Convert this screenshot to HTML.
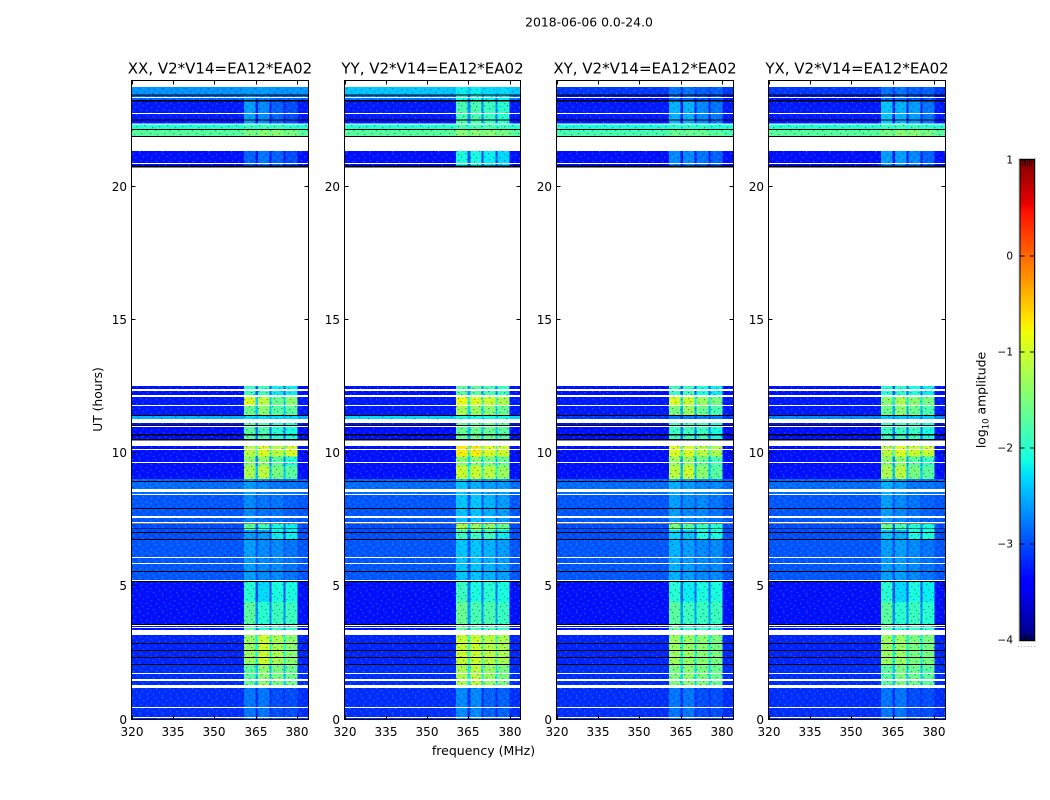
<!DOCTYPE html>
<html lang="en">
<head>
<meta charset="utf-8">
<title>2018-06-06 spectrogram</title>
<style>
html,body{margin:0;padding:0;background:#fff;}
svg{display:block;font-family:"DejaVu Sans","Liberation Sans",sans-serif;}
</style>
</head>
<body>
<svg id="chart" xmlns="http://www.w3.org/2000/svg" width="1050" height="800" viewBox="0 0 1050 800">
<defs>
<pattern id="speckle" patternUnits="userSpaceOnUse" width="23" height="17">
<g fill="#00e0ff" fill-opacity=".38">
<rect x="1" y="0" width="1.3" height="1.2"/><rect x="9" y="1" width="1.3" height="1.2"/><rect x="17" y="0" width="1.3" height="1.2"/>
<rect x="5" y="3" width="1.3" height="1.2"/><rect x="20" y="4" width="1.3" height="1.2"/><rect x="13" y="5" width="1.3" height="1.2"/>
<rect x="2" y="7" width="1.3" height="1.2"/><rect x="8" y="8" width="1.3" height="1.2"/><rect x="18" y="8" width="1.3" height="1.2"/>
<rect x="12" y="10" width="1.3" height="1.2"/><rect x="4" y="11" width="1.3" height="1.2"/><rect x="21" y="12" width="1.3" height="1.2"/>
<rect x="9" y="13" width="1.3" height="1.2"/><rect x="15" y="14" width="1.3" height="1.2"/><rect x="1" y="15" width="1.3" height="1.2"/>
</g>
<g fill="#000060" fill-opacity=".4">
<rect x="5" y="0" width="1.3" height="1.2"/><rect x="13" y="1" width="1.3" height="1.2"/><rect x="21" y="1" width="1.3" height="1.2"/>
<rect x="1" y="3" width="1.3" height="1.2"/><rect x="10" y="4" width="1.3" height="1.2"/><rect x="16" y="4" width="1.3" height="1.2"/>
<rect x="6" y="6" width="1.3" height="1.2"/><rect x="21" y="7" width="1.3" height="1.2"/><rect x="14" y="8" width="1.3" height="1.2"/>
<rect x="0" y="10" width="1.3" height="1.2"/><rect x="8" y="11" width="1.3" height="1.2"/><rect x="17" y="11" width="1.3" height="1.2"/>
<rect x="3" y="14" width="1.3" height="1.2"/><rect x="12" y="14" width="1.3" height="1.2"/><rect x="19" y="15" width="1.3" height="1.2"/>
</g>
</pattern>
</defs>
</svg>
<script>
// Chart data
const panelTitles = ["XX, V2*V14=EA12*EA02", "YY, V2*V14=EA12*EA02", "XY, V2*V14=EA12*EA02", "YX, V2*V14=EA12*EA02"];
const freqTicks = [320, 335, 350, 365, 380];
const hourTicks = [0, 5, 10, 15, 20];
const colorTicks = [1, 0, -1, -2, -3, -4];

// Time segments with data (UT hours)
const segStart = [0, 1.29, 2.04, 3.36, 4.41, 5.16, 6.74, 7.11, 7.41, 8.43, 9.03, 9.52, 9.87, 10.47, 11.29, 11.40, 11.77, 12.11, 20.73, 21.88, 22.14, 22.35, 23.21, 23.48];
const segEnd = [1.29, 2.04, 3.18, 4.41, 5.16, 6.74, 7.11, 7.41, 8.43, 9.03, 9.52, 9.87, 10.27, 11.13, 11.40, 11.77, 12.11, 12.52, 21.35, 22.14, 22.35, 23.21, 23.48, 23.76];

// Frequency windows carrying the signal (MHz)
const windowStart = [360.6, 365.8, 370.6, 375.7];
const windowEnd = [364.8, 369.9, 374.9, 380.0];

// log10 amplitude away from the signal windows, per segment
const backgroundXX = [-3.15, -3.15, -3.2, -3.3, -3.3, -2.95, -3.0, -3.0, -2.95, -2.85, -3.3, -3.3, -3.3, -3.3, -2.5, -3.25, -3.25, -3.3, -3.3, -1.7, -2.05, -3.25, -2.9, -2.65];
const backgroundYY = [-3.15, -3.15, -3.2, -3.3, -3.3, -2.95, -3.0, -3.0, -2.95, -2.85, -3.3, -3.3, -3.3, -3.3, -2.3, -3.25, -3.25, -3.3, -3.3, -1.7, -2.05, -3.25, -2.8, -2.4];
const backgroundXY = [-3.15, -3.15, -3.2, -3.3, -3.3, -2.95, -3.0, -3.0, -2.95, -2.85, -3.3, -3.3, -3.3, -3.3, -3.1, -3.25, -3.25, -3.3, -3.3, -1.8, -2.1, -3.25, -3.3, -3.1];
const backgroundYX = [-3.15, -3.15, -3.2, -3.3, -3.3, -2.95, -3.0, -3.0, -2.95, -2.85, -3.3, -3.3, -3.3, -3.3, -2.7, -3.25, -3.25, -3.3, -3.3, -1.7, -2.05, -3.25, -3.3, -3.1];

// log10 amplitude inside the four windows, per segment
const windowsXX = [[-2.8,-2.8,-3.0,-3.0],[-1.7,-1.4,-1.5,-1.6],[-1.3,-1.0,-1.2,-1.4],[-1.7,-2.0,-1.9,-1.9],[-2.0,-2.3,-2.1,-2.1],[-2.6,-2.7,-2.7,-2.8],[-2.6,-2.6,-2.2,-2.2],[-1.7,-1.9,-2.1,-2.2],[-2.7,-2.8,-2.8,-2.9],[-2.6,-2.7,-2.8,-2.8],[-1.2,-1.1,-1.5,-1.7],[-1.4,-1.4,-1.7,-2.0],[-1.1,-0.9,-1.1,-0.9],[-1.7,-1.8,-2.0,-2.1],[-2.3,-2.3,-2.3,-2.3],[-1.6,-1.4,-1.7,-1.7],[-0.9,-1.1,-1.6,-1.4],[-1.9,-1.9,-2.2,-2.2],[-2.9,-2.8,-2.9,-3.0],[-1.5,-1.4,-1.4,-1.5],[-1.9,-1.9,-1.9,-2.0],[-2.6,-2.7,-2.9,-3.0],[-2.7,-2.8,-2.9,-2.9],[-2.6,-2.6,-2.65,-2.65]];
const windowsYY = [[-2.7,-2.7,-2.9,-2.9],[-1.2,-1.1,-1.3,-1.5],[-1.0,-1.0,-1.1,-1.2],[-1.6,-1.8,-1.8,-1.9],[-1.9,-2.1,-2.0,-2.1],[-2.4,-2.4,-2.5,-2.6],[-1.9,-1.9,-1.9,-2.2],[-1.2,-1.3,-1.4,-1.6],[-2.4,-2.4,-2.5,-2.6],[-2.4,-2.5,-2.6,-2.6],[-1.0,-1.0,-1.1,-1.3],[-1.4,-1.4,-1.5,-1.6],[-0.7,-0.7,-0.9,-1.0],[-1.6,-1.6,-1.6,-1.7],[-2.1,-2.1,-2.1,-2.1],[-1.2,-1.3,-1.4,-1.6],[-0.8,-0.9,-1.0,-1.2],[-1.7,-1.7,-1.8,-1.9],[-2.1,-2.1,-2.2,-2.3],[-1.4,-1.4,-1.4,-1.5],[-1.8,-1.8,-1.8,-1.9],[-1.8,-1.8,-1.9,-2.0],[-2.1,-2.1,-2.2,-2.2],[-2.2,-2.2,-2.3,-2.3]];
const windowsXY = [[-2.8,-2.8,-3.0,-3.0],[-1.5,-1.4,-1.5,-1.6],[-1.3,-1.3,-1.4,-1.5],[-1.7,-1.9,-1.9,-1.9],[-2.0,-2.2,-2.1,-2.1],[-2.5,-2.6,-2.7,-2.7],[-2.3,-2.4,-2.1,-2.1],[-1.5,-1.7,-1.9,-2.0],[-2.6,-2.7,-2.7,-2.8],[-2.5,-2.6,-2.7,-2.7],[-1.1,-1.0,-1.4,-1.7],[-1.3,-1.3,-1.6,-1.8],[-0.9,-0.9,-1.1,-1.2],[-1.9,-1.9,-1.9,-2.1],[-2.8,-2.8,-2.8,-2.8],[-1.5,-1.3,-1.6,-1.8],[-0.9,-1.0,-1.3,-1.5],[-1.9,-1.9,-2.1,-2.2],[-2.7,-2.7,-2.8,-2.9],[-1.6,-1.6,-1.6,-1.7],[-2.0,-2.0,-2.0,-2.1],[-2.5,-2.5,-2.7,-2.8],[-2.9,-2.9,-3.0,-3.0],[-2.8,-2.8,-2.9,-2.9]];
const windowsYX = [[-2.8,-2.8,-3.0,-3.0],[-1.7,-1.5,-1.6,-1.7],[-1.3,-1.3,-1.5,-1.5],[-1.7,-2.0,-1.9,-2.0],[-2.0,-2.3,-2.1,-2.2],[-2.6,-2.6,-2.7,-2.8],[-2.4,-2.5,-2.1,-2.1],[-1.6,-1.8,-2.0,-2.1],[-2.6,-2.7,-2.8,-2.9],[-2.5,-2.6,-2.8,-2.8],[-1.2,-1.1,-1.5,-1.7],[-1.4,-1.4,-1.7,-1.9],[-1.1,-0.9,-1.0,-1.0],[-1.9,-1.9,-1.9,-2.1],[-2.4,-2.4,-2.4,-2.4],[-1.6,-1.4,-1.6,-1.8],[-1.4,-1.2,-1.4,-1.5],[-2.0,-2.0,-2.1,-2.2],[-2.6,-2.6,-2.7,-2.9],[-1.5,-1.4,-1.4,-1.5],[-1.9,-1.9,-1.9,-2.0],[-2.4,-2.5,-2.6,-2.8],[-2.9,-2.9,-3.0,-3.0],[-2.8,-2.8,-2.9,-2.9]];

// Flagged time ranges (UT hours): white = no data, black = zero amplitude
const whiteStart = [12.33,12.11,11.77,10.99,10.12,9.63,8.55,8.43,7.57,7.37,6.06,5.84,5.20,3.51,3.44,1.71,1.44,1.18,0.43,0.06,23.34,22.75,22.35,20.86];
const whiteEnd = [12.41,12.18,11.81,11.03,10.16,9.67,8.66,8.47,7.65,7.41,6.10,5.88,5.24,3.55,3.48,1.74,1.52,1.29,0.47,0.09,23.38,22.78,22.39,20.90];
const blackStart = [11.40,11.03,10.67,10.47,8.92,7.91,7.34,7.15,7.00,6.74,5.54,5.16,3.55,2.83,2.57,2.31,2.04,23.44,23.21,22.50,22.14,21.88,20.73];
const blackEnd = [11.43,11.06,10.72,10.53,8.96,7.95,7.37,7.18,7.04,6.78,5.58,5.20,3.59,2.87,2.61,2.34,2.08,23.48,23.27,22.54,22.18,21.92,20.80];

const backgrounds = [backgroundXX, backgroundYY, backgroundXY, backgroundYX];
const windowLevels = [windowsXX, windowsYY, windowsXY, windowsYX];

// Layout
const panelLeft = [131.5, 344.5, 556.5, 768.5];
const panelWidth = [177, 176, 177, 177];
const plotTop = 80.5, plotBottom = 719.5;
const freqMin = 320, freqMax = 384, hourMin = 0, hourMax = 24;
const cbarLeft = 1020.5, cbarWidth = 13.5, cbarTop = 160, cbarBottom = 640, levelMin = -4, levelMax = 1;

const svg = document.getElementById('chart');
const NS = 'http://www.w3.org/2000/svg';

function make(tag, attrs, parent) {
  const el = document.createElementNS(NS, tag);
  for (const k in attrs) el.setAttribute(k, attrs[k]);
  (parent || svg).appendChild(el);
  return el;
}
function xScale(panel, mhz) { return panelLeft[panel] + (mhz - freqMin) / (freqMax - freqMin) * panelWidth[panel]; }
function yScale(hour) { return plotBottom - (hour - hourMin) / (hourMax - hourMin) * (plotBottom - plotTop); }
function cbarScale(level) { return cbarBottom - (level - levelMin) / (levelMax - levelMin) * (cbarBottom - cbarTop); }
function ramp(t, pts) {
  for (let i = 1; i < pts.length; i++) {
    if (t <= pts[i][0]) {
      const a = pts[i - 1], b = pts[i];
      return a[1] + (b[1] - a[1]) * (t - a[0]) / (b[0] - a[0]);
    }
  }
  return pts[pts.length - 1][1];
}
function jet(t) {
  t = Math.max(0, Math.min(1, t));
  const r = ramp(t, [[0,0],[.35,0],[.66,1],[.89,1],[1,.5]]);
  const g = ramp(t, [[0,0],[.125,0],[.375,1],[.64,1],[.91,0],[1,0]]);
  const b = ramp(t, [[0,.5],[.11,1],[.34,1],[.65,0],[1,0]]);
  return 'rgb(' + Math.round(r * 255) + ',' + Math.round(g * 255) + ',' + Math.round(b * 255) + ')';
}
function levelColor(level) { return jet((level - levelMin) / (levelMax - levelMin)); }
function fmtLevel(v) { return v < 0 ? '\u2212' + Math.abs(v) : String(v); }

// Figure text
const figureTitle = make('text', {x: 589, y: 26.5, 'font-size': 12.4, 'text-anchor': 'middle', fill: '#000'});


figureTitle.textContent = '2018-06-06 0.0-24.0';

const yTitle = make('text', {x: 0, y: 0, 'font-size': 12.3, 'text-anchor': 'middle', fill: '#000', transform: 'translate(102,399.5) rotate(-90)'});


yTitle.textContent = 'UT (hours)';

const xTitle = make('text', {x: 483.5, y: 755, 'font-size': 12.5, 'text-anchor': 'middle', fill: '#000'});


xTitle.textContent = 'frequency (MHz)';

// Panels
panelTitles.forEach(function (title, p) {
  const g = make('g', {'shape-rendering': 'crispEdges'});
  
  

  const left = xScale(p, freqMin), right = xScale(p, freqMax);

  segStart.forEach(function (start, s) {
    const top = yScale(segEnd[s]), height = yScale(start) - top;
    const bgCell = make('rect', {x: left, y: top, width: right - left, height: height, fill: levelColor(backgrounds[p][s])}, g);
    
    

    // channels between the signal windows sit a little below the windows
    const levels = windowLevels[p][s];
    const gapLevel = Math.max(backgrounds[p][s], Math.min.apply(null, levels) - 0.7);
    const gapCell = make('rect', {x: xScale(p, windowStart[0]), y: top, width: xScale(p, windowEnd[3]) - xScale(p, windowStart[0]), height: height, fill: levelColor(gapLevel)}, g);
    
    

    levels.forEach(function (level, w) {
      const x0 = xScale(p, windowStart[w]);
      const cell = make('rect', {x: x0, y: top, width: xScale(p, windowEnd[w]) - x0, height: height, fill: levelColor(level)}, g);
      
      
    });

    const noise = make('rect', {x: left, y: top, width: right - left, height: height, fill: 'url(#speckle)'}, g);
    
    
  });

  whiteStart.forEach(function (start, i) {
    const top = yScale(whiteEnd[i]);
    const band = make('rect', {x: left, y: top, width: right - left, height: yScale(start) - top, fill: '#fff'}, g);
    
    
  });
  blackStart.forEach(function (start, i) {
    const top = yScale(blackEnd[i]);
    const band = make('rect', {x: left, y: top, width: right - left, height: yScale(start) - top, fill: '#000'}, g);
    
    
  });

  // Frame
  const frame = make('rect', {x: left, y: plotTop, width: right - left, height: plotBottom - plotTop, fill: 'none', stroke: '#000', 'stroke-width': 1});
  
  

  // Title
  const panelTitle = make('text', {x: (left + right) / 2, y: 73.5, 'font-size': 15, 'text-anchor': 'middle', fill: '#000'});
  
  
  panelTitle.textContent = title;

  // X ticks
  freqTicks.forEach(function (f) {
    const x = Math.round(xScale(p, f)) + 0.5;
    [[plotBottom, plotBottom - 4], [plotTop, plotTop + 4]].forEach(function (ends) {
      const tick = make('line', {x1: x, x2: x, y1: ends[0], y2: ends[1], stroke: '#000', 'stroke-width': 1});
      
      
    });
    const label = make('text', {x: x - 0.5, y: 736, 'font-size': 12, 'text-anchor': 'middle', fill: '#000'});
    
    
    label.textContent = f;
  });

  // Y ticks
  hourTicks.forEach(function (h) {
    const y = Math.round(yScale(h)) - 0.5;
    [[left, left + 4], [right, right - 4]].forEach(function (ends) {
      const tick = make('line', {x1: ends[0], x2: ends[1], y1: y, y2: y, stroke: '#000', 'stroke-width': 1});
      
      
    });
    const label = make('text', {x: left - 4.5, y: y + 4.5, 'font-size': 12, 'text-anchor': 'end', fill: '#000'});
    
    
    label.textContent = h;
  });
});

// Colorbar
const cbar = make('g', {'shape-rendering': 'crispEdges'});


for (let py = cbarTop; py < cbarBottom; py += 2) {
  const swatch = make('rect', {x: cbarLeft, y: py, width: cbarWidth, height: 2, fill: jet((cbarBottom - py - 1) / (cbarBottom - cbarTop))}, cbar);
  
  
}
const cbarOuter = make('rect', {x: cbarLeft - 0.5, y: cbarTop - 0.5, width: cbarWidth + 1, height: cbarBottom - cbarTop + 1, fill: 'none', stroke: '#000', 'stroke-width': 1}, cbar);


const cbarHalo = make('rect', {x: cbarLeft - 1.5, y: cbarTop - 1.5, width: cbarWidth + 3, height: cbarBottom - cbarTop + 3, fill: 'none', stroke: '#c4c4c4', 'stroke-width': 1}, cbar);



colorTicks.forEach(function (v) {
  const y = cbarScale(v);
  [[cbarLeft, cbarLeft + 4], [cbarLeft + cbarWidth - 4, cbarLeft + cbarWidth]].forEach(function (ends) {
    const tick = make('line', {x1: ends[0], x2: ends[1], y1: y, y2: y, stroke: '#000', 'stroke-width': 1}, cbar);
    
    
  });
  const label = make('text', {x: 1013, y: y + 3.5, 'font-size': 10.5, 'text-anchor': 'end', fill: '#000'});
  
  
  label.textContent = fmtLevel(v);
});
[cbarTop, cbarBottom].forEach(function (edge) {
  for (let k = 1; k <= 5; k++) {
    const mx = cbarLeft + k * cbarWidth / 6;
    const minor = make('line', {x1: mx, x2: mx, y1: edge, y2: edge === cbarTop ? edge + 6 : edge - 6, stroke: '#000', 'stroke-width': 0.7}, cbar);
    
    
  }
});
for (let k = 0; k < 6; k++) {
  const dot = make('rect', {x: 1018 + k * 3.3, y: 646, width: 1, height: 1, fill: '#aaa'});
  
  
}
const cbarTitle = make('text', {x: 0, y: 0, 'font-size': 12.4, 'text-anchor': 'middle', fill: '#000', transform: 'translate(985.5,400) rotate(-90)'});


cbarTitle.textContent = 'log';
const cbarSub = make('tspan', {'font-size': 8.5, dy: 3}, cbarTitle);


cbarSub.textContent = '10';
const cbarRest = make('tspan', {dy: -3}, cbarTitle);


cbarRest.textContent = ' amplitude';
</script>
</body>
</html>
